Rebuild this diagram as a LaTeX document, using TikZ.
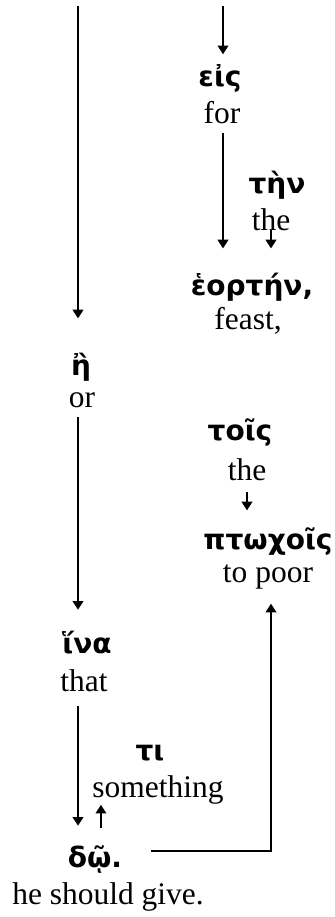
\documentclass[tikz,border=0pt]{standalone}
\usepackage{fontspec}
\setmainfont{Liberation Serif}
\newfontfamily\greekfont{DejaVu Sans}
\usetikzlibrary{arrows.meta}

\tikzset{every picture/.style={line width=0.75pt}}
\tikzset{
  gk/.style={font={\greekfont\bfseries\fontsize{21}{24}\selectfont}, inner sep=0pt},
  gloss/.style={font={\fontsize{23.6}{28}\selectfont}, inner sep=0pt},
  arr/.style={line width=1.25pt, -{Triangle[length=6.5pt,width=8pt]}},
}

\begin{document}
\begin{tikzpicture}[x=0.75pt,y=0.75pt,yscale=-1,xscale=1]
\useasboundingbox (0,0) rectangle (335,917);

% Text Node
\node [gk] (eis) at (220,78) {εἰς};
\node [gloss] (for) at (222,113) {for};
% Text Node
\node [gk] (ten) at (277,185) {τὴν};
\node [gloss] (theA) at (271,220) {the};
% Text Node
\node [gk] (heorten) at (252,287) {ἑορτήν,};
\node [gloss] (feast) at (248,321) {feast,};
% Text Node
\node [gk] (e) at (81,367) {ἢ};
\node [gloss] (or) at (82,400) {or};
% Text Node
\node [gk] (tois) at (240,433) {τοῖς};
\node [gloss] (theB) at (247,470) {the};
% Text Node
\node [gk] (ptochois) at (268,542) {πτωχοῖς};
\node [gloss] (topoor) at (268,577) {to poor};
% Text Node
\node [gk] (hina) at (87,643) {ἵνα};
\node [gloss] (that) at (84,681) {that};
% Text Node
\node [gk] (ti) at (150,753) {τι};
\node [gloss] (something) at (158,790) {something};
% Text Node
\node [gk] (do) at (95,860) {δῷ.};
\node [gloss] (give) at (108,897) {he should give.};

%Free ends at the top
\coordinate (ltop) at (78,6);
\coordinate (rtop) at (223,6);

%Left column
\draw [arr, shorten >=25.5pt] (ltop) -- (ltop |- e.north) ;
\draw [arr, shorten <=7pt, shorten >=16pt] (ltop |- or.south) -- (ltop |- hina.north) ;
\draw [arr, shorten <=10pt, shorten >=15pt] (ltop |- that.south) -- (ltop |- do.north) ;
\draw [arr, shorten <=13.5pt] (do.north -| something.west) ++(9,0) coordinate (up) (up) -- (up |- something.south) ;
%Right column
\draw [arr, shorten >=7pt] (rtop) -- (rtop |- eis.north) ;
\draw [arr, shorten <=6pt, shorten >=18pt] (rtop |- for.south) -- (rtop |- heorten.north) ;
\draw [arr, shorten <=-1.5pt, shorten >=18pt] (theA.south) -- (theA |- heorten.north) ;
\draw [arr, shorten <=8pt, shorten >=13pt] (theB.south) -- (theB |- ptochois.north) ;
%Return line
\draw [arr, shorten <=21pt, shorten >=10.5pt] ([yshift=4pt]do.north east) -- ([yshift=4pt]do.north east -| theA) -- (theA |- topoor.south) ;

\end{tikzpicture}
\end{document}
